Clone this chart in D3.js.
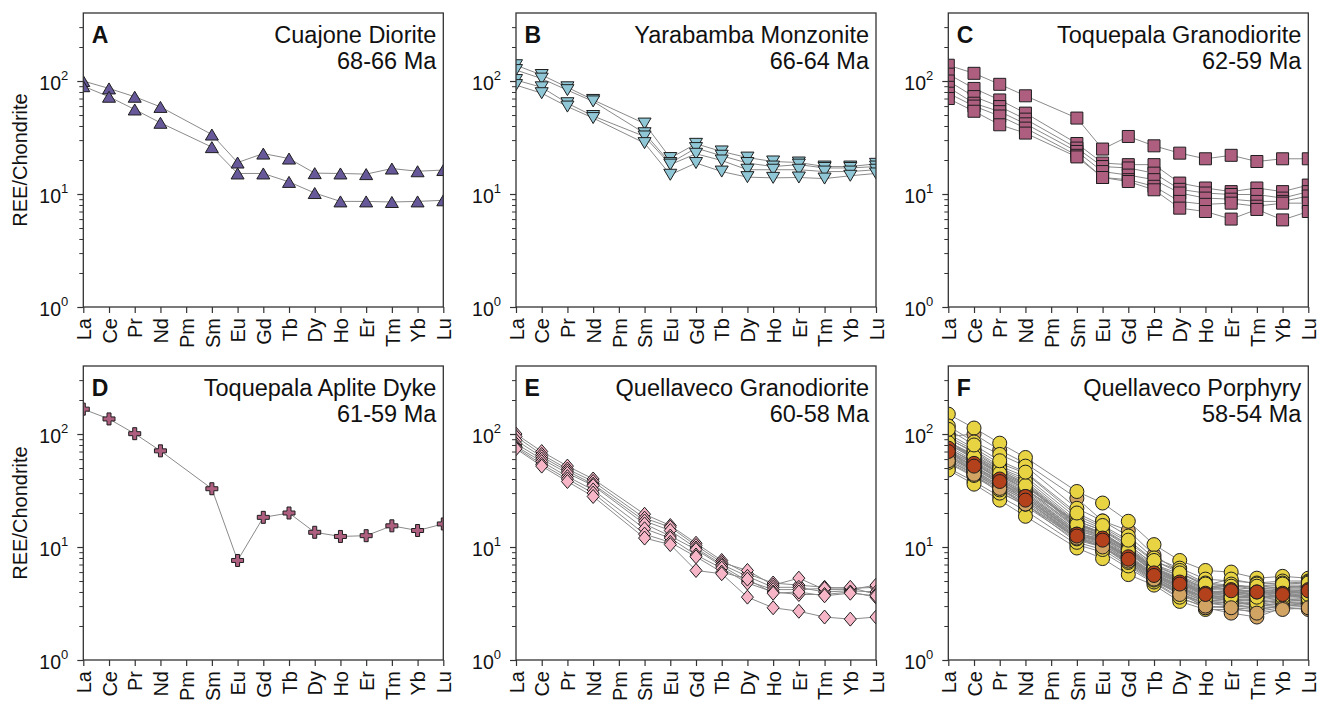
<!DOCTYPE html>
<html><head><meta charset="utf-8">
<script src="https://cdn.jsdelivr.net/npm/d3@7"></script>
<style>body{margin:0;background:#fff}svg{display:block;font-family:"Liberation Sans",Arial,Helvetica,sans-serif}</style>
</head><body><svg id="chart" width="1323" height="702"></svg>
<script>
// ---------- data ----------
const elements = ["La","Ce","Pr","Nd","Pm","Sm","Eu","Gd","Tb","Dy","Ho","Er","Tm","Yb","Lu"];
const measured = ["La","Ce","Pr","Nd","Sm","Eu","Gd","Tb","Dy","Ho","Er","Tm","Yb","Lu"];
const yTickValues = [1, 10, 100];
const yTickExponents = ["0", "1", "2"];
const yMinorTicks = [2,3,4,5,6,7,8,9,20,30,40,50,60,70,80,90,200,300];

const panelLetters = ["A","B","C","D","E","F"];
const panelTitles = ["Cuajone Diorite","Yarabamba Monzonite","Toquepala Granodiorite","Toquepala Aplite Dyke","Quellaveco Granodiorite","Quellaveco Porphyry"];
const panelAges = ["68-66 Ma","66-64 Ma","62-59 Ma","61-59 Ma","60-58 Ma","58-54 Ma"];

const cuajoneDiorite = [
  [100, 86, 72.6, 59, 33.6, 19, 22.8, 20.6, 15.3, 15.2, 15, 16.8, 15.9, 16.3],
  [90, 72.6, 56, 42.7, 26, 15.2, 15.2, 12.8, 10.2, 8.6, 8.6, 8.5, 8.6, 8.8]
];
const yarabambaMonzonite = [
  [138, 113, 88, 68, 42, 20.8, 27.8, 23.8, 21, 19.4, 19, 17.5, 17.5, 18.5],
  [125, 105, 83, 66, 34.5, 18.8, 25.5, 21.8, 18.8, 17.5, 18.2, 17, 17, 17.5],
  [102, 88, 63.6, 49, 32.3, 18.2, 22.7, 19.8, 16.4, 16.4, 16.4, 15.8, 15.8, 16.4],
  [92, 78, 59.4, 47, 28.2, 14.8, 18.8, 15.8, 14.1, 13.9, 14, 13.7, 14.5, 15.2]
];
const toquepalaGranodiorite = [
  [138, 117, 93.5, 74, 47, 25, 32.3, 26.7, 23, 20.5, 22, 19.4, 20.5, 20.5],
  [115, 86, 68, 52, 28, 18.8, 18.2, 18.2, 12.5, 11.3, 10.5, 11.3, 10.5, 12],
  [100, 72.8, 59.4, 46, 25.5, 17.5, 17, 15.3, 11, 10.2, 9.9, 9.9, 9.2, 10.5],
  [88, 63.6, 53.6, 41.8, 23.8, 15.8, 14.7, 13.4, 10.2, 9.2, 9, 8.6, 8.6, 9.6],
  [78, 60, 49, 38.3, 22, 14, 13.4, 11.7, 8.6, 8.1, 8.3, 7.8, 8.3, 8.3],
  [70, 54, 41, 34.6, 21.3, 14, 12.9, 10.9, 7.5, 7, 6, 7.3, 5.9, 7]
];
const toquepalaApliteDyke = [
  [166, 136, 100.7, 71, 32.8, 7.6, 18.3, 20, 13.5, 12.4, 12.6, 15.4, 14, 16]
];
const quellavecoGranodiorite = [
  [100, 70, 52, 40, 19.5, 15.5, 10.8, 7.6, 5.8, 4.8, 4.6, 4.4, 4.3, 4.4],
  [95, 66, 49, 38, 18, 15, 10.3, 7.3, 6.2, 4.6, 5.3, 4.2, 4.2, 4.6],
  [88, 63, 47, 36, 17, 14, 9.8, 7.0, 5.5, 4.4, 4.4, 4.0, 4.1, 4.0],
  [82, 60, 45, 35, 16, 12.5, 9.5, 6.8, 5.0, 4.2, 4.2, 4.3, 4.4, 3.8],
  [78, 57, 42, 32, 14.5, 12, 8.5, 6.5, 4.8, 4.0, 3.8, 3.8, 4.0, 3.6],
  [76, 54, 40, 30, 13, 11, 8.2, 6.0, 5.2, 3.9, 4.0, 3.7, 3.9, 3.7],
  [74, 52, 38, 28, 12, 10.5, 6.2, 5.8, 3.6, 2.9, 2.7, 2.4, 2.3, 2.4]
];
// tan samples drawn behind the yellow ones
const quellavecoPorphyryTanBack = [
  [95, 100, 72, 55, 27, 17, 14, 8.5, 6.0, 4.5, 4.2, 3.6, 3.8, 3.6],
  [80, 65, 48, 36, 16, 13, 9.5, 6.5, 5.0, 3.6, 3.4, 3.0, 3.2, 3.2],
  [88, 60, 45, 32, 17, 14, 10.5, 7, 5.5, 4.2, 4.6, 4.2, 4.3, 4.4],
  [70, 55, 40, 30, 14, 12, 9, 6.0, 4.4, 3.3, 3.2, 2.8, 3.0, 3.1]
];
const quellavecoPorphyryYellow = [
  [150, 113, 83, 62, 31, 24.5, 16.9, 10.5, 7.6, 6.2, 6.0, 5.3, 5.5, 5.3],
  [118, 85, 66, 52, 22, 17, 12.5, 8, 6.5, 5.2, 5.0, 4.8, 5.0, 5.0],
  [100, 75, 55, 45, 19, 15, 11, 7.5, 6.2, 4.8, 4.6, 4.4, 4.6, 4.6],
  [90, 70, 50, 40, 17, 14, 10, 6.8, 5.5, 4.5, 4.4, 4.2, 4.5, 4.4],
  [85, 66, 47, 37, 16, 13.5, 9.5, 6.5, 5.2, 4.3, 4.2, 4.0, 4.2, 4.3],
  [80, 62, 45, 35, 15.5, 13, 9.2, 6.3, 5.0, 4.1, 4.0, 3.9, 4.0, 4.1],
  [78, 58, 43, 33, 15, 12.5, 9, 6.2, 4.8, 3.9, 3.8, 3.7, 3.9, 4.0],
  [75, 56, 41, 32, 14.5, 12.2, 8.8, 6.0, 4.7, 3.8, 3.7, 3.6, 3.8, 3.9],
  [72, 54, 40, 31, 14, 12, 8.5, 5.8, 4.6, 3.7, 3.6, 3.5, 3.7, 3.8],
  [68, 52, 38, 30, 13.5, 11.5, 8.2, 5.6, 4.5, 3.6, 3.5, 3.4, 3.6, 3.7],
  [65, 50, 36, 28, 13, 11, 8, 5.5, 4.3, 3.5, 3.4, 3.3, 3.5, 3.6],
  [62, 47, 35, 27, 12.5, 10.8, 7.8, 5.3, 4.2, 3.4, 3.3, 3.2, 3.4, 3.5],
  [58, 45, 33, 25, 12, 10.5, 7.5, 5.2, 4.0, 3.3, 3.2, 3.1, 3.3, 3.4],
  [55, 42, 31, 23, 11.5, 10, 7, 5.0, 3.8, 3.2, 3.0, 3.0, 3.2, 3.3],
  [50, 38, 28, 21, 10.5, 9, 6.5, 4.8, 3.5, 3.0, 2.9, 2.8, 3.0, 3.2],
  [48, 36, 26, 18.7, 9.8, 7.9, 5.7, 4.6, 3.3, 2.8, 2.8, 2.7, 2.9, 3.0],
  [95, 72, 52, 42, 18, 14.5, 10.5, 7.0, 5.8, 4.6, 5.2, 4.7, 4.8, 4.9],
  [82, 60, 44, 34, 16.5, 13, 9.8, 6.6, 5.3, 4.4, 4.7, 4.3, 4.4, 4.5],
  [70, 52, 39, 29, 13.5, 11.2, 8.3, 5.7, 4.4, 3.6, 4.0, 3.8, 3.9, 4.0],
  [66, 46, 34, 26, 12, 10, 7.2, 5.1, 3.9, 3.1, 3.3, 3.0, 3.1, 3.2],
  [76, 44, 30, 24, 11, 9.5, 6.8, 4.9, 3.6, 2.9, 3.0, 2.9, 3.0, 3.1],
  [86, 64, 46, 36, 15, 12.8, 9.2, 6.4, 5.0, 4.0, 3.9, 3.8, 4.1, 4.2],
  [92, 68, 49, 38, 16.5, 13.2, 9.6, 6.6, 5.1, 4.2, 4.3, 4.0, 4.3, 4.6],
  [74, 57, 42, 33, 14.8, 12.4, 8.9, 6.1, 4.9, 3.8, 3.9, 3.6, 3.7, 3.9],
  [64, 49, 37, 29, 13.2, 11.4, 8.1, 5.5, 4.3, 3.6, 3.7, 3.5, 3.8, 3.6],
  [60, 46, 34, 26, 12.2, 10.6, 7.6, 5.4, 4.1, 3.3, 3.5, 3.3, 3.3, 3.4],
  [84, 63, 45, 35, 15.8, 13.2, 9.3, 6.4, 4.9, 4.0, 4.1, 4.1, 4.0, 4.2],
  [56, 43, 32, 24, 11.8, 10.2, 7.3, 5.1, 3.9, 3.2, 3.1, 3.2, 3.4, 3.5],
  [110, 80, 58, 46, 20, 15.5, 11.5, 7.6, 5.9, 4.7, 4.5, 4.5, 4.7, 4.8],
  [67, 51, 37, 28, 12.8, 11, 7.9, 5.6, 4.4, 3.5, 3.6, 3.6, 3.6, 3.8]
];
// tan samples lying at the low end, visible in front
const quellavecoPorphyryTanFront = [
  [62, 48, 35, 27, 13, 11, 8, 5.4, 4.0, 2.9, 2.6, 2.4, 2.9, 2.8],
  [58, 44, 33, 24, 12, 10, 7.5, 5.2, 3.8, 3.0, 2.9, 2.6, 2.8, 2.9]
];
const quellavecoPorphyryRed = [
  [75, 55, 40, 28, 13, 12, 8.2, 5.9, 4.9, 3.9, 4.2, 4.0, 3.9, 4.2],
  [70, 52, 38, 26, 12.5, 11.5, 7.8, 5.6, 4.7, 3.8, 4.1, 4.0, 3.8, 4.1]
];

// ---------- styles ----------
const colPurple = "#67589a", colBlue = "#8fc7d6", colMauve = "#ae5f80", colPink = "#f7b6c8";
const colYellow = "#e8d343", colTan = "#d2a463", colRed = "#b3411b";

const symbolPaths = {
  triUp: "M0,-5.5L6.5,5.5L-6.5,5.5Z",
  triDown: "M0,5.5L6.5,-5.5L-6.5,-5.5Z",
  square: "M-6,-6H6V6H-6Z",
  plus: "M-2,-6H2V-2H6V2H2V6H-2V2H-6V-2H-2Z",
  diamond: "M0,-7L6,0L0,7L-6,0Z",
  circle: "M7,0A7,7 0 1,1 -7,0A7,7 0 1,1 7,0Z"
};

const panels = [
  {series: cuajoneDiorite.map(v => ({v, c: colPurple})), sym: "triUp"},
  {series: yarabambaMonzonite.map(v => ({v, c: colBlue})), sym: "triDown"},
  {series: toquepalaGranodiorite.map(v => ({v, c: colMauve})), sym: "square"},
  {series: toquepalaApliteDyke.map(v => ({v, c: colMauve})), sym: "plus"},
  {series: quellavecoGranodiorite.map(v => ({v, c: colPink})), sym: "diamond"},
  {series: quellavecoPorphyryTanBack.map(v => ({v, c: colTan}))
      .concat(quellavecoPorphyryYellow.map(v => ({v, c: colYellow})))
      .concat(quellavecoPorphyryTanFront.map(v => ({v, c: colTan})))
      .concat(quellavecoPorphyryRed.map(v => ({v, c: colRed}))), sym: "circle"}
];

// ---------- layout ----------
const colLefts = [83.3, 516, 948.3];
const rowTops = [13, 366];
const plotW = 360, plotH = 294;
const FONT = "Liberation Sans, Arial, sans-serif";

const svg = d3.select("#chart");
svg.append("rect").attr("width", 1323).attr("height", 702).attr("fill", "#fff");

const x = d3.scalePoint().domain(elements).range([0, plotW]);
const y = d3.scaleLog().domain([1, 400]).range([plotH, 0]);
const line = d3.line().x((d, i) => x(measured[i])).y(d => y(d));

panels.forEach((p, pi) => {
  const col = pi % 3, row = Math.floor(pi / 3);
  const g = svg.append("g").attr("transform", `translate(${colLefts[col]},${rowTops[row]})`);

  const clipId = "clip" + pi;
  g.append("clipPath").attr("id", clipId).append("rect").attr("width", plotW).attr("height", plotH);
  const plot = g.append("g").attr("clip-path", `url(#${clipId})`);

  plot.selectAll("path.ln").data(p.series).join("path")
    .attr("class", "ln").attr("d", s => line(s.v))
    .attr("fill", "none").attr("stroke", "#8a8a8a").attr("stroke-width", 1);

  p.series.forEach(s => {
    plot.append("g").selectAll("path").data(s.v).join("path")
      .attr("d", symbolPaths[p.sym])
      .attr("transform", (d, i) => `translate(${x(measured[i])},${y(d)})`)
      .attr("fill", s.c).attr("stroke", "#1e1e1e").attr("stroke-width", 1);
  });

  // x axis
  const xa = g.append("g").attr("transform", `translate(0,${plotH})`)
    .call(d3.axisBottom(x).tickSize(6).tickPadding(6));
  xa.select(".domain").remove();
  xa.selectAll("line").attr("stroke", "#333").attr("stroke-width", 1.2);
  xa.selectAll("text").attr("transform", "rotate(-90)").attr("x", -11).attr("y", 0)
    .attr("dy", "0.36em").style("text-anchor", "end")
    .style("font-size", "20px").style("font-family", FONT).attr("fill", "#111");

  // y axis minor
  const ym = g.append("g").call(d3.axisLeft(y).tickValues(yMinorTicks).tickSize(4).tickFormat(""));
  ym.select(".domain").remove();
  ym.selectAll("line").attr("stroke", "#333").attr("stroke-width", 1);

  // y axis major
  const ya = g.append("g").call(d3.axisLeft(y).tickValues(yTickValues).tickSize(6).tickPadding(9).tickFormat(""));
  ya.select(".domain").remove();
  ya.selectAll("line").attr("stroke", "#333").attr("stroke-width", 1.2);
  ya.selectAll("text").each(function(d, i) {
    const t = d3.select(this).attr("dy", "0.42em").attr("fill", "#111")
      .style("font-size", "19.5px").style("font-family", FONT);
    t.text("");
    t.append("tspan").text("10");
    t.append("tspan").attr("dy", "-10").style("font-size", "13px").text(yTickExponents[i]);
  });

  // frame
  g.append("rect").attr("width", plotW).attr("height", plotH)
    .attr("fill", "none").attr("stroke", "#333").attr("stroke-width", 1.3);

  // labels
  g.append("text").attr("x", 8.5).attr("y", 29.7).text(panelLetters[pi])
    .style("font-size", "23px").style("font-weight", "bold").attr("fill", "#111");
  g.append("text").attr("x", plotW - 7).attr("y", 29.7).attr("text-anchor", "end")
    .text(panelTitles[pi]).style("font-size", "23.5px").attr("fill", "#111");
  g.append("text").attr("x", plotW - 7).attr("y", 55.5).attr("text-anchor", "end")
    .text(panelAges[pi]).style("font-size", "23.5px").attr("fill", "#111");

  if (col === 0) {
    g.append("text").attr("transform", `translate(${27 - colLefts[0]},${plotH / 2}) rotate(-90)`)
      .attr("text-anchor", "middle").text("REE/Chondrite")
      .style("font-size", "20px").attr("fill", "#111");
  }
});
</script></body></html>
